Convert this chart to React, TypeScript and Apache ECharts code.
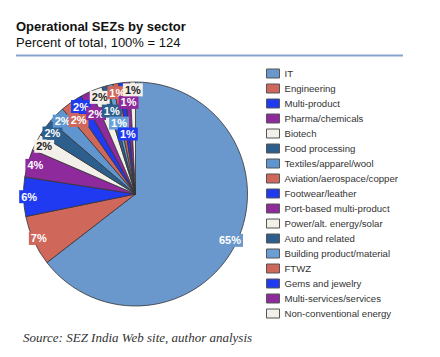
import React, { useEffect, useRef } from "react";
import * as echarts from "echarts";

const categories = [
  "IT",
  "Engineering",
  "Multi-product",
  "Pharma/chemicals",
  "Biotech",
  "Food processing",
  "Textiles/apparel/wool",
  "Aviation/aerospace/copper",
  "Footwear/leather",
  "Port-based multi-product",
  "Power/alt. energy/solar",
  "Auto and related",
  "Building product/material",
  "FTWZ",
  "Gems and jewelry",
  "Multi-services/services",
  "Non-conventional energy",
];
// estimated number of operational SEZs per sector (total 124)
const counts = [80, 9, 7, 5, 3, 3, 3, 2, 2, 2, 2, 1, 1, 1, 1, 1, 1];
const TOTAL = 124;

const colors = [
  "#6b98cc", "#d0675b", "#1f3af0", "#8e2a9c", "#f3f0e9", "#2d5f8e",
  "#5f96d0", "#d0675b", "#1f3af0", "#8e2a9c", "#f3f0e9", "#2d5f8e",
  "#6a9fd6", "#d0675b", "#1f3af0", "#8e2a9c", "#f3f0e9",
];
const labelTextColors = colors.map((c) => (c === "#f3f0e9" ? "#222" : "#fff"));
// label distance from center as fraction of radius
const labelRadiusFrac = [0.94, 0.95, 0.95, 0.93, 0.92, 0.92, 0.92, 0.83, 0.92, 0.8, 0.92, 0.77, 0.65, 0.92, 0.54, 0.82, 0.93];

const CX = 135.5;
const CY = 194;
const R = 112;

export default function App() {
  const ref = useRef<HTMLDivElement>(null);
  useEffect(() => {
    if (!ref.current) return;
    const chart = echarts.init(ref.current, undefined, { renderer: "svg" });
    const data = categories.map((name, i) => ({
      name,
      value: counts[i],
      itemStyle: { color: colors[i] },
      label: { color: labelTextColors[i], backgroundColor: colors[i] },
    }));
    chart.setOption({
      animation: false,
      graphic: [
        {
          type: "text",
          x: 16,
          y: 26.5,
          style: {
            text: "Operational SEZs by sector",
            font: 'bold 13px "Liberation Sans", Arial, sans-serif',
            fill: "#111",
            verticalAlign: "middle",
          },
        },
        {
          type: "text",
          x: 16,
          y: 42,
          style: {
            text: "Percent of total, 100% = 124",
            font: '13px "Liberation Sans", Arial, sans-serif',
            fill: "#111",
            verticalAlign: "middle",
          },
        },
        {
          type: "line",
          shape: { x1: 16, y1: 55.5, x2: 403, y2: 55.5 },
          style: { stroke: "#86a3cc", lineWidth: 2 },
        },
        {
          type: "text",
          x: 23,
          y: 337,
          style: {
            text: "Source: SEZ India Web site, author analysis",
            font: 'italic 13px "Liberation Serif", "Times New Roman", serif',
            fill: "#333",
            verticalAlign: "middle",
          },
        },
      ],
      legend: {
        orient: "vertical",
        left: 266,
        top: 68,
        padding: 0,
        itemWidth: 13,
        itemHeight: 9,
        itemGap: 4,
        icon: "rect",
        itemStyle: { borderColor: "#555", borderWidth: 1 },
        textStyle: {
          fontSize: 9.6,
          lineHeight: 11,
          color: "#333",
          fontFamily: '"Liberation Sans", Arial, sans-serif',
        },
        data: categories,
      },
      series: [
        {
          type: "pie",
          center: [CX, CY],
          radius: R,
          startAngle: 90,
          clockwise: true,
          avoidLabelOverlap: false,
          itemStyle: { borderColor: "#333", borderWidth: 0.8 },
          label: {
            show: true,
            position: "inside",
            fontSize: 11,
            fontWeight: "bold",
            fontFamily: '"Liberation Sans", Arial, sans-serif',
            padding: [1, 2],
            formatter: (p: any) => Math.round((p.value / TOTAL) * 100) + "%",
          },
          labelLine: { show: false },
          labelLayout: (params: any) => {
            const rect = params.labelRect;
            const cx = rect.x + rect.width / 2;
            const cy = rect.y + rect.height / 2;
            const vx = cx - CX;
            const vy = cy - CY;
            const rc = Math.hypot(vx, vy) || 1;
            const k = (labelRadiusFrac[params.dataIndex] * R) / rc - 1;
            return { dx: vx * k, dy: vy * k };
          },
          emphasis: { disabled: true },
          data,
        },
      ],
    });
    return () => chart.dispose();
  }, []);
  return (
    <div
      ref={ref}
      style={{ position: "fixed", left: 0, top: 0, width: 440, height: 357, background: "#fff" }}
    />
  );
}
